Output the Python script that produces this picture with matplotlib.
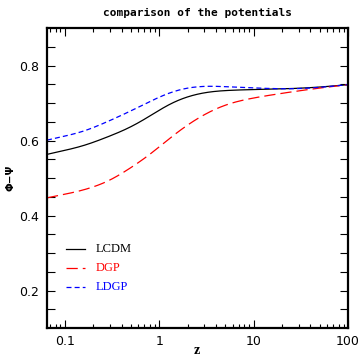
import numpy as np
import matplotlib
matplotlib.use("Agg")
import matplotlib.pyplot as plt
from matplotlib.ticker import FixedLocator, LogLocator, NullFormatter, FuncFormatter

z_grid = [0.065, 0.16, 0.295, 0.48, 0.78, 1.28, 2.08, 3.4, 5.5, 10.0, 24.0, 50.0, 100.0]
phi_lcdm = [0.563, 0.585, 0.611, 0.632, 0.663, 0.699, 0.720, 0.731, 0.734, 0.736, 0.738, 0.742, 0.749]
phi_dgp = [0.447, 0.467, 0.490, 0.524, 0.559, 0.606, 0.646, 0.678, 0.700, 0.714, 0.729, 0.740, 0.749]
phi_ldgp = [0.601, 0.623, 0.652, 0.676, 0.703, 0.729, 0.743, 0.746, 0.743, 0.740, 0.737, 0.741, 0.749]

labels = ["LCDM", "DGP", "LDGP"]
colors = ["black", "red", "blue"]

def smooth(zs, vs, sigma=0.12):
    # linear interpolation of read points in log(z), then gaussian smoothing
    x = np.log10(np.asarray(zs, float)); y = np.asarray(vs, float)
    n = 600
    grid = np.linspace(x[0], x[-1], n)
    yi = np.interp(grid, x, y)
    dx = grid[1] - grid[0]
    k = int(4 * sigma / dx)
    # odd reflection at both ends keeps end values and slopes
    left = 2 * yi[0] - yi[1:k+1][::-1]
    right = 2 * yi[-1] - yi[-k-1:-1][::-1]
    ext = np.concatenate([left, yi, right])
    t = np.arange(-k, k + 1) * dx
    ker = np.exp(-0.5 * (t / sigma) ** 2); ker /= ker.sum()
    ys = np.convolve(ext, ker, mode='same')[k:k+n]
    return 10**grid, ys

fig = plt.figure(figsize=(3.6, 3.56), dpi=100)
ax = fig.add_axes([47/360, 1-328/356, 301/360, 300/356])

styles = ['-', (0, (9, 4)), (0, (4, 2.5))]
for vals, col, st in zip([phi_lcdm, phi_dgp, phi_ldgp], colors, styles):
    zz, vv = smooth(z_grid, vals)
    ax.plot(zz, vv, color=col, lw=0.9, ls=st)

ax.set_xscale('log')
ax.set_xlim(0.065, 100)
ax.set_ylim(0.1, 0.9)

ax.xaxis.set_major_locator(FixedLocator([0.1, 1, 10, 100]))
ax.xaxis.set_major_formatter(FuncFormatter(lambda v, p: {0.1: '0.1', 1: '1', 10: '10', 100: '100'}.get(v, '')))
ax.xaxis.set_minor_locator(LogLocator(base=10, subs=np.arange(2, 10)))
ax.xaxis.set_minor_formatter(NullFormatter())
ax.yaxis.set_major_locator(FixedLocator([0.2, 0.4, 0.6, 0.8]))
ax.yaxis.set_minor_locator(FixedLocator(np.round(np.arange(0.15, 0.9, 0.05), 2)))
ax.yaxis.set_major_formatter(FuncFormatter(lambda v, p: f"{v:.1f}"))

ax.tick_params(which='both', direction='in', top=True, right=True, width=0.8, labelsize=9)
ax.tick_params(axis='x', which='major', length=6, pad=5)
ax.tick_params(axis='x', which='minor', length=3)
ax.tick_params(axis='y', which='both', length=6, pad=6)
for s in ax.spines.values():
    s.set_linewidth(1.6)

ax.set_title("comparison of the potentials", family='DejaVu Sans Mono', fontweight='bold', fontsize=8, pad=9)
fig.text(197/360, 1-351/356, "z", family='Liberation Serif', fontweight='bold', fontsize=10,
         ha='center', va='center')
fig.text(10/360, 1-178/356, "Φ−Ψ", fontweight='bold', fontsize=7.5, rotation=90,
         ha='center', va='center')

# legend drawn in data coordinates
leg_y_px = [250, 269, 288]
for lab, col, st, ypx in zip(labels, colors, styles, leg_y_px):
    yv = 0.8 - (ypx - 65) / 377.5
    x0 = 10 ** ((67 - 160) / 94.3); x1 = 10 ** ((86 - 160) / 94.3)
    ax.plot([x0, x1], [yv, yv], color=col, lw=0.9, ls=st)
    ax.text(10 ** ((97 - 160) / 94.3), yv, lab, color=col, family='Liberation Serif',
            fontsize=9, va='center', ha='left')

fig.savefig("out.png", dpi=100)
